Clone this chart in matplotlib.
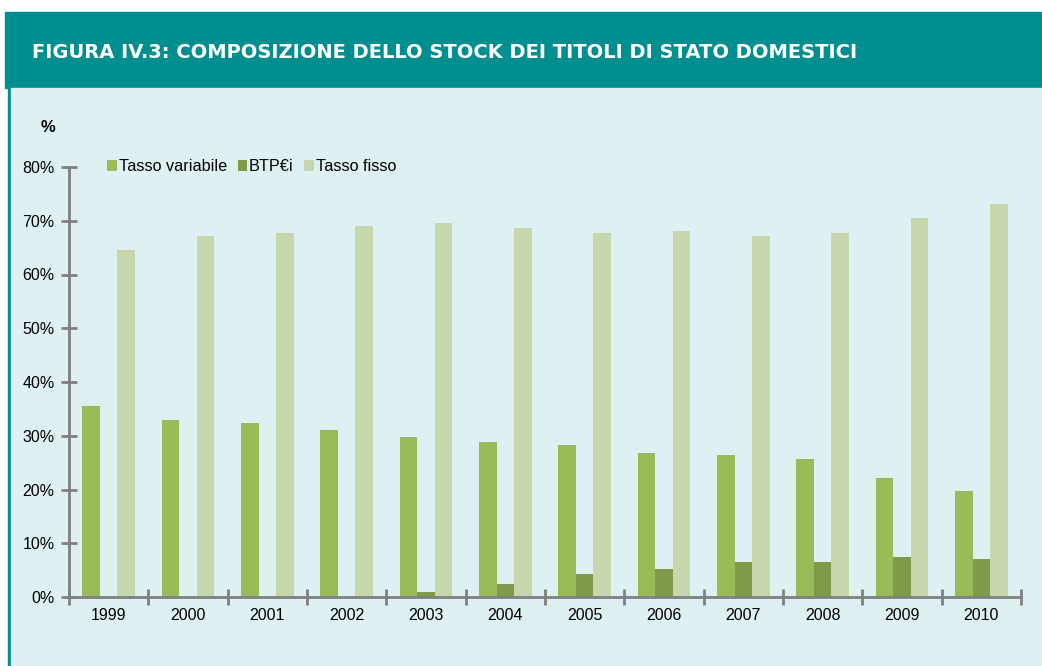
import matplotlib.pyplot as plt
import matplotlib.patches as patches
import numpy as np

years = ['1999', '2000', '2001', '2002', '2003', '2004',
         '2005', '2006', '2007', '2008', '2009', '2010']
tasso_variabile = [35.5, 32.9, 32.3, 31.1, 29.7, 28.8, 28.2, 26.8, 26.4, 25.7, 22.1, 19.7]
btp_ei = [0, 0, 0, 0, 0.9, 2.5, 4.3, 5.2, 6.6, 6.6, 7.4, 7.1]
tasso_fisso = [64.6, 67.2, 67.8, 69.0, 69.5, 68.7, 67.7, 68.1, 67.2, 67.8, 70.6, 73.2]
yticks = [0, 10, 20, 30, 40, 50, 60, 70, 80]

teal = '#008e8e'
panel = '#dff0f2'
c_var = '#9bbb59'
c_btp = '#7f9a48'
c_fix = '#c7d7ad'
grey = '#808080'
fam = ['Liberation Sans', 'DejaVu Sans']

fig = plt.figure(figsize=(10.42, 6.66), dpi=100)
fig.patch.set_facecolor('white')

# header band and panel
fig.patches.append(patches.Rectangle((5/1042, 1-88/666), 1, 76/666,
                                     transform=fig.transFigure, color=teal, zorder=0))
fig.patches.append(patches.Rectangle((8/1042, 0), 1, 1-88/666,
                                     transform=fig.transFigure, color=teal, zorder=0))
fig.patches.append(patches.Rectangle((11/1042, 0), 1, 1-88/666,
                                     transform=fig.transFigure, color=panel, zorder=0))

fig.text(32/1042, 1-52/666, 'FIGURA IV.3: COMPOSIZIONE DELLO STOCK DEI TITOLI DI STATO DOMESTICI',
         color='white', fontsize=14, fontweight='bold', va='center', ha='left',
         family='DejaVu Sans', zorder=3)
fig.text(48/1042, 1-127/666, '%', fontsize=12, fontweight='bold', va='center', ha='center',
         family=fam, zorder=3)

ax = fig.add_axes([69/1042, 1-597/666, (1021-69)/1042, (597-167)/666])
ax.set_zorder(2)
ax.set_facecolor('none')

x = np.arange(len(years))
w = 0.222
ax.bar(x - w, tasso_variabile, w, color=c_var, label='Tasso variabile')
ax.bar(x, btp_ei, w, color=c_btp, label='BTP€i')
ax.bar(x + w, tasso_fisso, w, color=c_fix, label='Tasso fisso')

ax.set_xlim(-0.5, len(years) - 0.5)
ax.set_ylim(0, 80)
ax.set_yticks(yticks)
ax.set_yticklabels([f'{v}%' for v in yticks])
ax.set_xticks(x)
ax.set_xticklabels(years)
ax.set_xticks(np.arange(len(years) + 1) - 0.5, minor=True)

for s in ['top', 'right']:
    ax.spines[s].set_visible(False)
for s in ['left', 'bottom']:
    ax.spines[s].set_color(grey)
    ax.spines[s].set_linewidth(2)

ax.tick_params(axis='x', which='major', length=0, pad=8, labelsize=11.5)
ax.tick_params(axis='x', which='minor', direction='inout', length=11, width=2, color=grey)
ax.tick_params(axis='y', direction='inout', length=11, width=2, color=grey, pad=5, labelsize=11.5)
for lab in ax.get_xticklabels() + ax.get_yticklabels():
    lab.set_family(fam)

leg = ax.legend(loc='upper left', bbox_to_anchor=(0.025, 1.052), ncol=3, frameon=False,
                handlelength=0.6, handleheight=0.6, handletextpad=0.1, columnspacing=0.65,
                prop={'family': fam, 'size': 11.7})

fig.savefig('out.png', dpi=100)
